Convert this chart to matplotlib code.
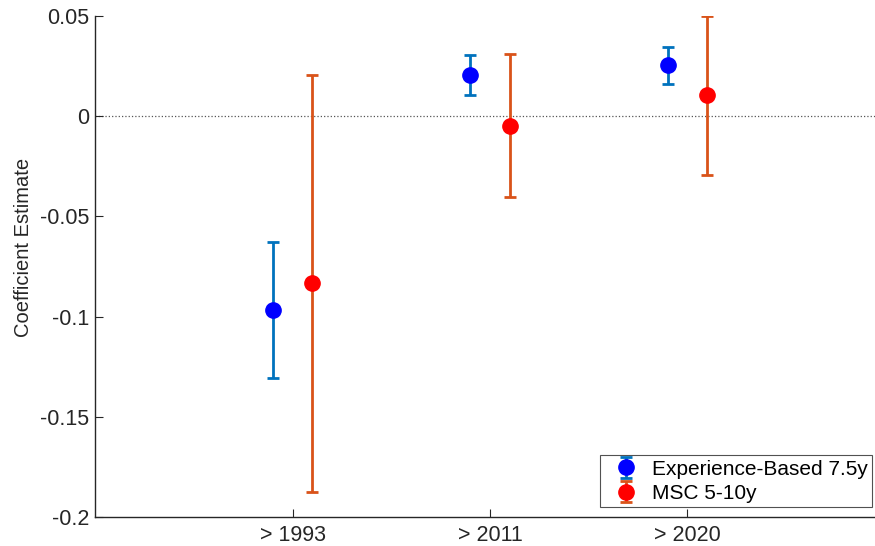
import matplotlib.pyplot as plt
import numpy as np

plt.rcParams['font.family'] = ['Liberation Sans', 'DejaVu Sans']

# =====数据
categories = ['> 1993', '> 2011', '> 2020']
exp_est = [-0.0966, 0.0204, 0.0253]
exp_lo = [-0.1307, 0.0104, 0.0162]
exp_hi = [-0.0630, 0.0305, 0.0346]
msc_est = [-0.0833, -0.0047, 0.0104]
msc_lo = [-0.1874, -0.0405, -0.0291]
msc_hi = [0.0207, 0.0310, 0.0498]

x = np.arange(1, len(categories) + 1)
exp_est = np.array(exp_est)
msc_est = np.array(msc_est)
exp_err = [exp_est - np.array(exp_lo), np.array(exp_hi) - exp_est]
msc_err = [msc_est - np.array(msc_lo), np.array(msc_hi) - msc_est]

# =====画图
W, H = 875, 546
fig = plt.figure(figsize=(W / 100, H / 100), dpi=100)
left, top, bottom = 95, 16, 517
unit = 197.5  # 每个类别的像素宽度
ax = fig.add_axes([left / W, 1 - bottom / H, 4 * unit / W, (bottom - top) / H])

ax.axhline(0, color='#555555', linestyle=':', linewidth=0.9, zorder=1)

ax.errorbar(x - 0.1, exp_est, yerr=exp_err, fmt='o', color='#0000FF', ecolor='#0072BD',
            elinewidth=2, capsize=4.5, capthick=2, markersize=11, label='Experience-Based 7.5y', zorder=3)
ax.errorbar(x + 0.1, msc_est, yerr=msc_err, fmt='o', color='#FF0000', ecolor='#D95319',
            elinewidth=2, capsize=4.5, capthick=2, markersize=11, label='MSC 5-10y', zorder=3)

ax.set_xlim(0, 4)
ax.set_ylim(-0.2, 0.05)
ax.set_xticks(x)
ax.set_xticklabels(categories)
ax.set_yticks([-0.2, -0.15, -0.1, -0.05, 0, 0.05])
ax.set_yticklabels(['-0.2', '-0.15', '-0.1', '-0.05', '0', '0.05'])
ax.set_ylabel('Coefficient Estimate', fontsize=14.5, color='#262626')
# 标签位置
ax.yaxis.set_label_coords(33 / W, 1 - 247 / H, transform=fig.transFigure)

for s in ['top', 'right']:
    ax.spines[s].set_visible(False)
for s in ['left', 'bottom']:
    ax.spines[s].set_color('#262626')
    ax.spines[s].set_linewidth(1)
ax.tick_params(axis='both', direction='in', labelsize=15.5, colors='#262626', length=6, width=0.8)
ax.tick_params(axis='x', pad=6)
ax.tick_params(axis='y', pad=4)

leg = ax.legend(loc='lower right', bbox_to_anchor=(872 / W, 1 - 507 / H), bbox_transform=fig.transFigure,
                fontsize=15, frameon=True, fancybox=False, edgecolor='#262626', borderpad=0.2,
                labelspacing=0.25, handletextpad=0.2, handlelength=2.1, borderaxespad=0)
leg.get_frame().set_linewidth(0.8)

fig.savefig('out.png', dpi=100)
